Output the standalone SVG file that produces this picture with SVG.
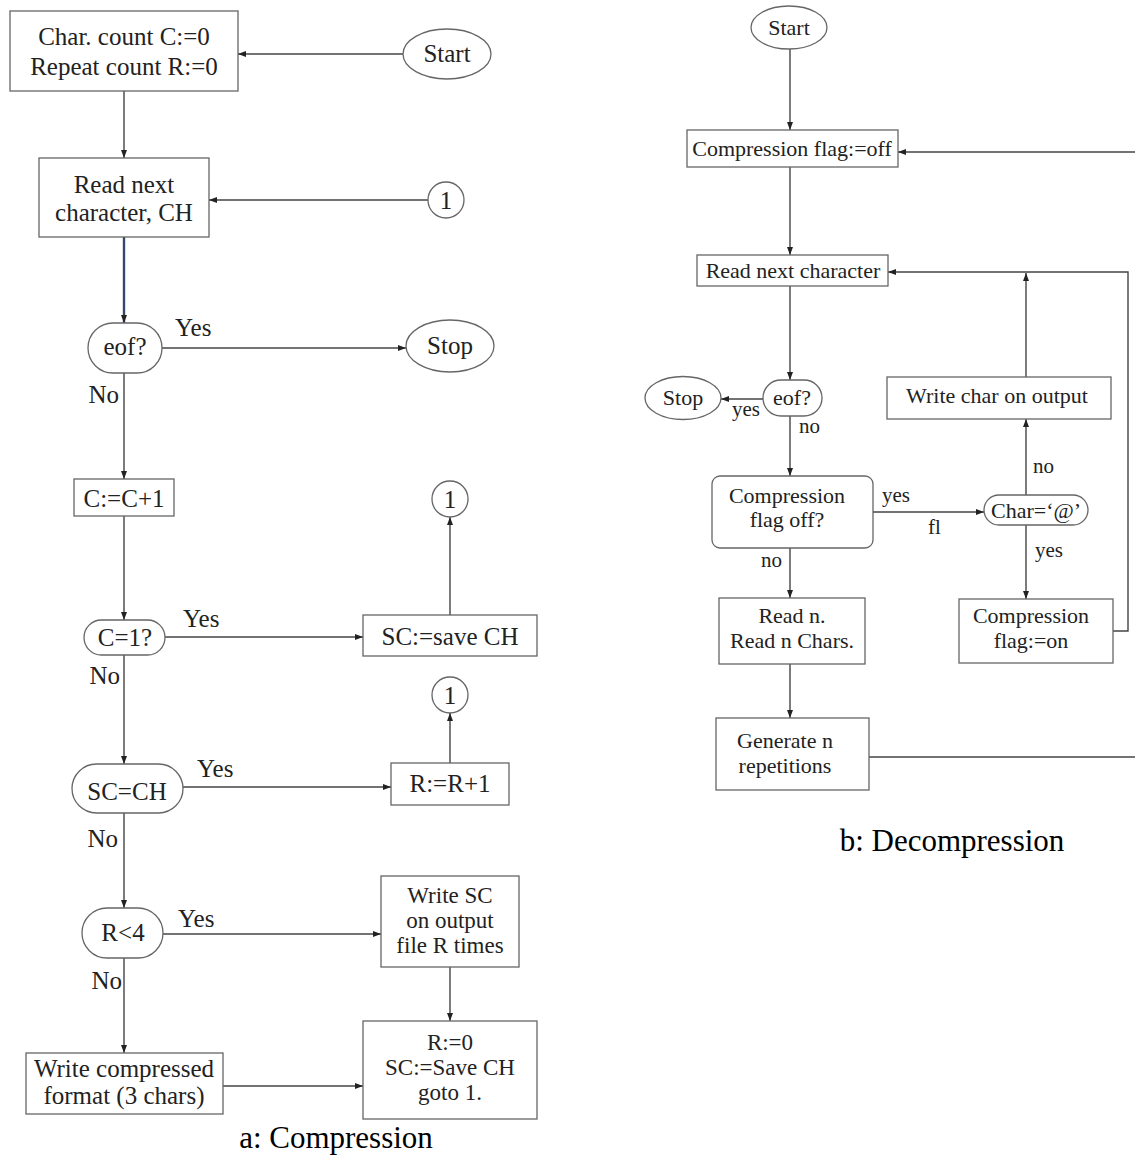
<svg xmlns="http://www.w3.org/2000/svg" width="1135" height="1162" viewBox="0 0 1135 1162">
<defs>
<marker id="ah" markerUnits="userSpaceOnUse" markerWidth="10" markerHeight="8" refX="8" refY="4" orient="auto">
<path d="M0,1 L8,4 L0,7 z" fill="#222"/>
</marker>
<style>
.b{fill:#fff;stroke:#666;stroke-width:1.3}
.t{font-family:"Liberation Serif","Times New Roman",serif;font-size:25px;fill:#222;text-anchor:middle}
.s{font-size:23px}
.r{font-family:"Liberation Serif","Times New Roman",serif;font-size:22px;fill:#222;text-anchor:middle}
.lb{font-family:"Liberation Serif","Times New Roman",serif;font-size:25px;fill:#222}
.lr{font-family:"Liberation Serif","Times New Roman",serif;font-size:21px;fill:#222}
.cap{font-family:"Liberation Serif","Times New Roman",serif;font-size:31px;fill:#000;text-anchor:middle}
.c{fill:none;stroke:#444;stroke-width:1.4}
</style>
</defs>
<rect width="1135" height="1162" fill="#fff"/>

<g id="connectors">
<path class="c" d="M403,54 L238,54" marker-end="url(#ah)"/>
<path class="c" d="M124,91 L124,158" marker-end="url(#ah)"/>
<path class="c" d="M428,200 L209,200" marker-end="url(#ah)"/>
<path d="M124,237 L124,323" fill="none" stroke="#34496a" stroke-width="2.4" marker-end="url(#ah)"/>
<path class="c" d="M162,348 L406,348" marker-end="url(#ah)"/>
<path class="c" d="M124,373 L124,479" marker-end="url(#ah)"/>
<path class="c" d="M124,516 L124,620" marker-end="url(#ah)"/>
<path class="c" d="M165,637 L363,637" marker-end="url(#ah)"/>
<path class="c" d="M450,615 L450,517" marker-end="url(#ah)"/>
<path class="c" d="M124,655 L124,764" marker-end="url(#ah)"/>
<path class="c" d="M183,787 L391,787" marker-end="url(#ah)"/>
<path class="c" d="M450,763 L450,713" marker-end="url(#ah)"/>
<path class="c" d="M124,813 L124,908" marker-end="url(#ah)"/>
<path class="c" d="M163,934 L381,934" marker-end="url(#ah)"/>
<path class="c" d="M450,967 L450,1021" marker-end="url(#ah)"/>
<path class="c" d="M124,958 L124,1053" marker-end="url(#ah)"/>
<path class="c" d="M223,1086 L363,1086" marker-end="url(#ah)"/>

<path class="c" d="M790,49 L790,130" marker-end="url(#ah)"/>
<path class="c" d="M1135,152 L898,152" marker-end="url(#ah)"/>
<path class="c" d="M790,167 L790,255" marker-end="url(#ah)"/>
<path class="c" d="M1113,631 L1128,631 L1128,272 L888,272" marker-end="url(#ah)"/>
<path class="c" d="M1026,377 L1026,273" marker-end="url(#ah)"/>
<path class="c" d="M790,286 L790,380" marker-end="url(#ah)"/>
<path class="c" d="M763,399 L721,399" marker-end="url(#ah)"/>
<path class="c" d="M790,416 L790,476" marker-end="url(#ah)"/>
<path class="c" d="M873,512 L984,512" marker-end="url(#ah)"/>
<path class="c" d="M1026,495 L1026,419" marker-end="url(#ah)"/>
<path class="c" d="M1026,525 L1026,599" marker-end="url(#ah)"/>
<path class="c" d="M790,548 L790,598" marker-end="url(#ah)"/>
<path class="c" d="M790,664 L790,718" marker-end="url(#ah)"/>
<path class="c" d="M869,757 L1135,757"/>

<text class="lb" x="175" y="336">Yes</text>
<text class="lb" x="119" y="403" text-anchor="end">No</text>
<text class="lb" x="183" y="627">Yes</text>
<text class="lb" x="120" y="684" text-anchor="end">No</text>
<text class="lb" x="197" y="777">Yes</text>
<text class="lb" x="118" y="847" text-anchor="end">No</text>
<text class="lb" x="178" y="927">Yes</text>
<text class="lb" x="122" y="989" text-anchor="end">No</text>

<text class="lr" x="732" y="416">yes</text>
<text class="lr" x="799" y="433">no</text>
<text class="lr" x="882" y="502">yes</text>
<text class="lr" x="928" y="534">fl</text>
<text class="lr" x="1033" y="473">no</text>
<text class="lr" x="1035" y="557">yes</text>
<text class="lr" x="761" y="567">no</text>
</g>

<g id="a-init"><rect class="b" x="10" y="11" width="228" height="80"/><text class="t" x="124" y="45">Char. count C:=0</text><text class="t" x="124" y="75">Repeat count R:=0</text></g>
<g id="a-start"><ellipse class="b" cx="447" cy="54" rx="44" ry="25"/><text class="t" x="447" y="62">Start</text></g>
<g id="a-read"><rect class="b" x="39" y="158" width="170" height="79"/><text class="t" x="124" y="193">Read next</text><text class="t" x="124" y="221">character, CH</text></g>
<g id="a-con1"><circle class="b" cx="446" cy="200" r="18"/><text class="t" x="446" y="209">1</text></g>
<g id="a-eof"><rect class="b" x="88" y="323" width="74" height="50" rx="25"/><text class="t" x="125" y="355">eof?</text></g>
<g id="a-stop"><ellipse class="b" cx="450" cy="346" rx="44" ry="26"/><text class="t" x="450" y="354">Stop</text></g>
<g id="a-inc"><rect class="b" x="74" y="479" width="100" height="37"/><text class="t" x="124" y="507">C:=C+1</text></g>
<g id="a-con2"><circle class="b" cx="450" cy="499" r="18"/><text class="t" x="450" y="508">1</text></g>
<g id="a-c1q"><rect class="b" x="84" y="620" width="81" height="35" rx="17.5"/><text class="t" x="125" y="646">C=1?</text></g>
<g id="a-save"><rect class="b" x="363" y="615" width="174" height="41"/><text class="t" x="450" y="645">SC:=save CH</text></g>
<g id="a-con3"><circle class="b" cx="450" cy="695" r="18"/><text class="t" x="450" y="704">1</text></g>
<g id="a-eq"><rect class="b" x="72" y="764" width="111" height="49" rx="24.5"/><text class="t" x="127" y="800">SC=CH</text></g>
<g id="a-rinc"><rect class="b" x="391" y="763" width="118" height="42"/><text class="t" x="450" y="792">R:=R+1</text></g>
<g id="a-r4"><rect class="b" x="82" y="908" width="81" height="50" rx="25"/><text class="t" x="123" y="941">R&lt;4</text></g>
<g id="a-write"><rect class="b" x="381" y="876" width="138" height="91"/><text class="t s" x="450" y="903">Write SC</text><text class="t s" x="450" y="928">on output</text><text class="t s" x="450" y="953">file R times</text></g>
<g id="a-reset"><rect class="b" x="363" y="1021" width="174" height="98"/><text class="t s" x="450" y="1050">R:=0</text><text class="t s" x="450" y="1075">SC:=Save CH</text><text class="t s" x="450" y="1100">goto 1.</text></g>
<g id="a-comp"><rect class="b" x="26" y="1053" width="197" height="61"/><text class="t" x="124" y="1077">Write compressed</text><text class="t" x="124" y="1104">format (3 chars)</text></g>
<text class="cap" x="336" y="1148">a: Compression</text>

<g id="b-start"><ellipse class="b" cx="789" cy="27.5" rx="38" ry="21.5"/><text class="r" x="789" y="35">Start</text></g>
<g id="b-off"><rect class="b" x="687" y="130" width="211" height="37"/><text class="r" x="792" y="156">Compression flag:=off</text></g>
<g id="b-read"><rect class="b" x="697" y="255" width="191" height="31"/><text class="r" x="793" y="278">Read next character</text></g>
<g id="b-eof"><rect class="b" x="763" y="380" width="59" height="36" rx="18"/><text class="r" x="792" y="405">eof?</text></g>
<g id="b-stop"><ellipse class="b" cx="683" cy="398" rx="38" ry="21.5"/><text class="r" x="683" y="405">Stop</text></g>
<g id="b-cfq"><rect class="b" x="712" y="476" width="161" height="72" rx="8"/><text class="r" x="787" y="503">Compression</text><text class="r" x="787" y="527">flag off?</text></g>
<g id="b-char"><rect class="b" x="984" y="495" width="104" height="30" rx="15"/><text class="r" x="1036" y="518">Char=‘@’</text></g>
<g id="b-write"><rect class="b" x="887" y="377" width="224" height="42"/><text class="r" x="997" y="403">Write char on output</text></g>
<g id="b-on"><rect class="b" x="959" y="599" width="154" height="64"/><text class="r" x="1031" y="623">Compression</text><text class="r" x="1031" y="648">flag:=on</text></g>
<g id="b-readn"><rect class="b" x="719" y="598" width="146" height="66"/><text class="r" x="792" y="623">Read n.</text><text class="r" x="792" y="648">Read n Chars.</text></g>
<g id="b-gen"><rect class="b" x="716" y="718" width="153" height="72"/><text class="r" x="785" y="748">Generate n</text><text class="r" x="785" y="773">repetitions</text></g>
<text class="cap" x="952" y="851">b: Decompression</text>
</svg>
